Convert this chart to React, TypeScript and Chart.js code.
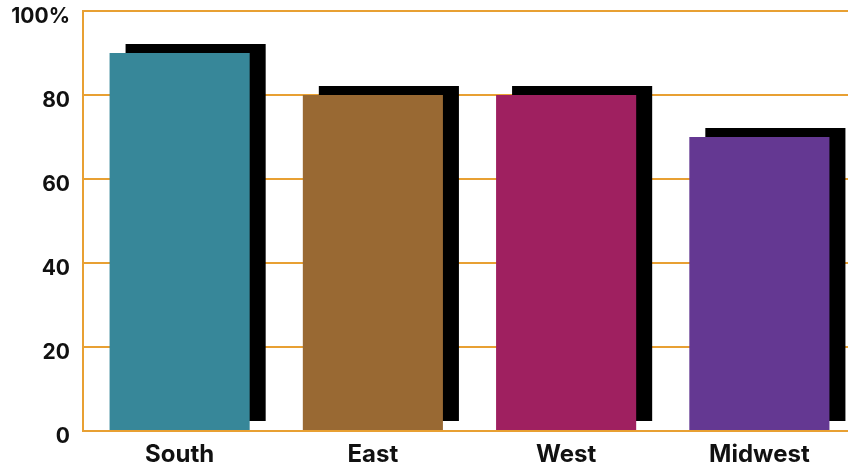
import React, { useEffect, useRef } from "react";
import { Chart, registerables } from "chart.js";

Chart.register(...registerables);

const regions = ["South", "East", "West", "Midwest"];
const shares = [90, 80, 80, 70];
const barColors = ["#378799", "#996933", "#9F2060", "#643892"];
const yTicks = [0, 20, 40, 60, 80, 100];

const GRID = "#E8A033";
const FONT = "Inter, 'Liberation Sans', Arial, sans-serif";

// Hard, offset drop shadow behind each bar
const blockShadow = {
  id: "blockShadow",
  beforeDatasetsDraw(chart: Chart) {
    const ctx = chart.ctx;
    ctx.save();
    ctx.shadowColor = "#000000";
    ctx.shadowBlur = 0;
    ctx.shadowOffsetX = 16;
    ctx.shadowOffsetY = -9;
  },
  afterDatasetsDraw(chart: Chart) {
    chart.ctx.restore();
  },
};

export default function App() {
  const canvasRef = useRef<HTMLCanvasElement | null>(null);

  useEffect(() => {
    document.body.style.margin = "0";
    const canvas = canvasRef.current;
    if (!canvas) return;
    const chart = new Chart(canvas, {
      type: "bar",
      data: {
        labels: regions,
        datasets: [
          {
            data: shares,
            backgroundColor: barColors,
            borderWidth: 0,
            barPercentage: 0.725,
            categoryPercentage: 1,
          },
        ],
      },
      options: {
        responsive: false,
        animation: false,
        layout: { padding: { top: 11, right: 0, bottom: 0, left: 0 } },
        plugins: {
          legend: { display: false },
          tooltip: { enabled: false },
        },
        scales: {
          x: {
            grid: { display: false },
            border: { display: true, color: GRID, width: 2 },
            afterFit(scale) {
              scale.height = 35;
              scale.paddingLeft = 0;
              scale.paddingRight = 0;
            },
            ticks: {
              color: "#111111",
              padding: 1,
              font: { family: FONT, size: 24, weight: "bold" },
            },
          },
          y: {
            min: 0,
            max: 100,
            afterBuildTicks(scale) {
              scale.ticks = yTicks.map((v) => ({ value: v }));
            },
            afterFit(scale) {
              scale.width = 83;
              scale.paddingTop = 0;
              scale.paddingBottom = 0;
            },
            grid: { color: GRID, lineWidth: 2, drawTicks: false },
            border: { display: true, color: GRID, width: 2 },
            ticks: {
              color: "#111111",
              padding: 13,
              labelOffset: 6,
              font: { family: FONT, size: 21, weight: "bold" },
              callback: (v) => (Number(v) === 100 ? "100%" : String(v)),
            },
          },
        },
      },
      plugins: [blockShadow],
    });
    return () => chart.destroy();
  }, []);

  // the plot runs a little past the right edge of the visible frame
  return (
    <div style={{ width: 848, height: 466, overflow: "hidden", background: "#ffffff" }}>
      <canvas ref={canvasRef} width={856} height={466} style={{ display: "block" }} />
    </div>
  );
}
